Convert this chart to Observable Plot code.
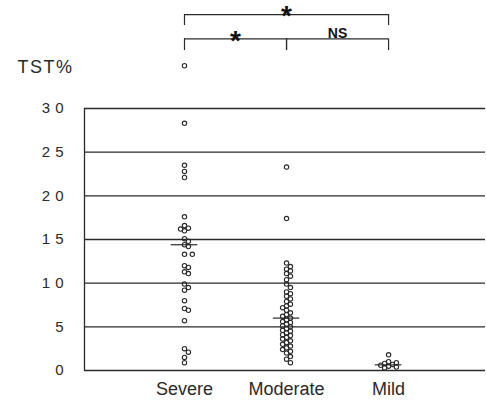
<!DOCTYPE html>
<html>
<head>
<meta charset="utf-8">
<script src="https://cdn.jsdelivr.net/npm/d3@7"></script>
<script src="https://cdn.jsdelivr.net/npm/@observablehq/plot@0.6"></script>
<style>
  html, body { margin: 0; padding: 0; background: #fff; }
  g[aria-label="y-axis tick label"] text { letter-spacing: 5px; font-stretch: condensed; }
</style>
</head>
<body>
<div id="chart"></div>
<script>
// ---- data ----
const groups = ["Severe", "Moderate", "Mild"];
const severe = [34.9, 28.3, 23.5, 22.8, 22.1, 17.6, 16.6, 16.3, 16.2, 16.0, 15.1, 14.8, 14.4, 14.2,
  13.3, 13.3, 12.0, 11.8, 11.3, 11.1, 9.9, 9.5, 9.2, 8.0, 7.1, 6.9, 5.7, 2.5, 2.1, 1.5, 0.9];
const moderate = [23.3, 17.4, 12.3, 11.9, 11.6, 11.4, 11.1, 10.8, 10.4, 9.9, 9.5, 9.0, 8.8, 8.5, 8.2,
  7.9, 7.6, 7.4, 7.2, 6.9, 6.6, 6.4, 6.2, 6.0, 5.8, 5.6, 5.5, 5.3, 5.1, 5.0, 4.8, 4.6, 4.5, 4.3,
  4.1, 4.0, 3.8, 3.6, 3.4, 3.2, 3.0, 2.8, 2.6, 2.4, 2.2, 2.0, 1.6, 1.3, 0.9];
const mild = [1.8, 1.0, 0.9, 0.8, 0.7, 0.6, 0.5, 0.4, 0.3];
const means = [14.4, 6.0, 0.65];
const yTicks = [0, 5, 10, 15, 20, 25, 30];
const yLabel = "TST%";
const comparisons = [
  {a: "Severe", b: "Mild", label: "*", level: 0},
  {a: "Severe", b: "Moderate", label: "*", level: 1},
  {a: "Moderate", b: "Mild", label: "NS", level: 1}
];

// ---- layout ----
const W = 486, H = 402;
const mL = 84, mR = 1, mT = 0, mB = 32;
const xDomain = [-0.98, 2.95];
const yDomain = [0, 42.37];
const pxPerX = (W - mL - mR) / (xDomain[1] - xDomain[0]);
const pxPerY = (H - mT - mB) / (yDomain[1] - yDomain[0]);

// deterministic beeswarm offsets (in x data units)
const values = [severe, moderate, mild];
const dots = [];
const diam = 4.6;
values.forEach((vals, gi) => {
  const placed = [];
  [...vals].sort((a, b) => b - a).forEach(v => {
    for (let k = 0; k < 40; k++) {
      const step = k === 0 ? 0 : (k % 2 ? 1 : -1) * Math.ceil(k / 2);
      const ox = step * diam * 0.85;
      const ok = placed.every(p => {
        const dx = p.ox - ox, dy = (p.v - v) * pxPerY;
        return dx * dx + dy * dy >= diam * diam * 0.8;
      });
      if (ok) { placed.push({v, ox}); break; }
    }
  });
  placed.forEach(p => dots.push({group: groups[gi], x: gi + p.ox / pxPerX, value: p.v}));
});

const meanRows = groups.map((g, i) => ({group: g, i, mean: means[i]}));
const levelY = [40.76, 37.98];
const tickDrop = [1.26, 1.34];
const brk = comparisons.map(c => ({
  ...c, i1: groups.indexOf(c.a), i2: groups.indexOf(c.b),
  y: levelY[c.level], y0: levelY[c.level] - tickDrop[c.level]
}));
const brkTicks = [];
brk.forEach(b => { brkTicks.push({x: b.i1, y: b.y, y0: b.y0}); brkTicks.push({x: b.i2, y: b.y, y0: b.y0}); });

const ink = "#2a2a2a";
const narrow = "'Liberation Sans Narrow', 'Liberation Sans', Arial, sans-serif";
const chart = Plot.plot({
  width: W, height: H,
  marginLeft: mL, marginRight: mR, marginTop: mT, marginBottom: mB,
  style: {fontFamily: "'Liberation Sans', Arial, sans-serif", background: "#fff", color: ink},
  x: {type: "linear", domain: xDomain},
  y: {domain: yDomain},
  marks: [
    Plot.ruleY(yTicks, {y: d => d, x1: xDomain[0], x2: xDomain[1], stroke: ink, strokeWidth: 1.3}),
    Plot.ruleX([xDomain[0]], {x: d => d, y1: 0, y2: 30, stroke: ink, strokeWidth: 1.3}),
    Plot.axisY({ticks: yTicks, tickSize: 0, tickPadding: 16, fontSize: 15,
      fontFamily: narrow, label: null}),
    Plot.axisX({ticks: [0, 1, 2], tickFormat: i => groups[i], tickSize: 0, tickPadding: 12,
      fontSize: 18, label: null}),
    Plot.text([yLabel], {frameAnchor: "left", y: 34.75, dx: -11, textAnchor: "end",
      fontSize: 18, fontFamily: narrow, fill: ink}),
    Plot.dot(dots, {x: "x", y: "value", r: 2.2, stroke: ink, strokeWidth: 1.1, fill: "none"}),
    Plot.ruleY(meanRows, {y: "mean", x1: d => d.i - 0.13, x2: d => d.i + 0.13, stroke: ink, strokeWidth: 1.2}),
    Plot.ruleY(brk, {y: "y", x1: "i1", x2: "i2", stroke: ink, strokeWidth: 1.2}),
    Plot.ruleX(brkTicks, {x: "x", y1: "y", y2: "y0", stroke: ink, strokeWidth: 1.2}),
    Plot.text(brk.filter(b => b.label === "*"), {x: d => (d.i1 + d.i2) / 2, y: "y", text: "label",
      fontSize: 28, fontWeight: "bold", dy: 1.8, fill: "#111"}),
    Plot.text(brk.filter(b => b.label !== "*"), {x: d => (d.i1 + d.i2) / 2, y: "y", text: "label",
      fontSize: 14, fontWeight: "bold", dy: -5.6, fill: "#111"})
  ]
});
d3.select(chart).selectAll("text")
  .filter(function () { return this.textContent === yLabel; })
  .style("letter-spacing", "1.5px").style("font-stretch", "condensed");
document.getElementById("chart").appendChild(chart);
</script>
</body>
</html>
